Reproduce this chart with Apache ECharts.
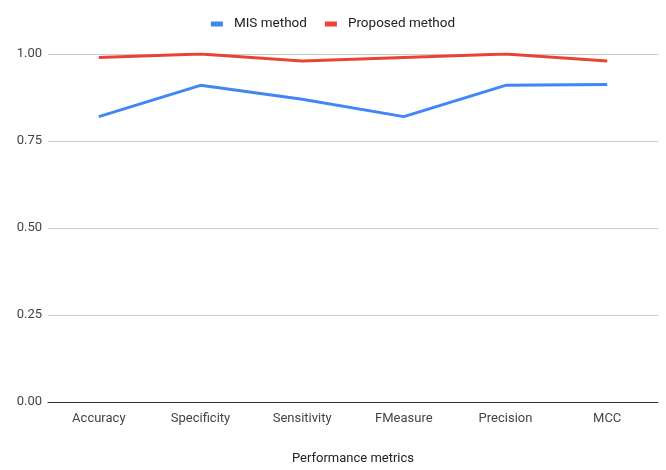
<!DOCTYPE html>
<html>
<head>
<meta charset="utf-8">
<script src="https://cdn.jsdelivr.net/npm/echarts@6/dist/echarts.min.js"></script>
<style>
  html, body { margin: 0; padding: 0; background: #fff; }
  #chart { width: 666px; height: 470px; }
</style>
</head>
<body>
<div id="chart"></div>
<script>
const categories = ['Accuracy', 'Specificity', 'Sensitivity', 'FMeasure', 'Precision', 'MCC'];
const misMethod = [0.82, 0.91, 0.87, 0.82, 0.91, 0.912];
const proposedMethod = [0.99, 1.0, 0.98, 0.99, 1.0, 0.98];
const yTicks = [0, 0.25, 0.5, 0.75, 1.0];

const font = 'Roboto, Arial, sans-serif';
const chart = echarts.init(document.getElementById('chart'));
chart.setOption({
  animation: false,
  textStyle: { fontFamily: font },
  legend: {
    top: 12,
    left: 'center',
    icon: 'rect',
    itemWidth: 12,
    itemHeight: 5,
    itemGap: 18,
    textStyle: { fontSize: 13.5, color: '#222', fontFamily: font, padding: [0, 0, 0, 6] },
    data: ['MIS method', 'Proposed method']
  },
  grid: { left: 48, right: 8, top: 54, bottom: 68, containLabel: false },
  xAxis: {
    type: 'category',
    data: categories,
    boundaryGap: true,
    name: 'Performance metrics',
    nameLocation: 'middle',
    nameGap: 50,
    nameTextStyle: { fontSize: 13, color: '#222', fontFamily: font },
    axisLine: { lineStyle: { color: '#333', width: 1 } },
    axisTick: { show: false },
    axisLabel: { fontSize: 13, color: '#444', margin: 10, fontFamily: font }
  },
  yAxis: {
    type: 'value',
    min: yTicks[0],
    max: yTicks[yTicks.length - 1],
    interval: 0.25,
    axisLine: { show: false },
    axisTick: { show: false },
    splitLine: { lineStyle: { color: '#cccccc', width: 1 } },
    axisLabel: {
      fontSize: 13, color: '#444', margin: 6, fontFamily: font,
      formatter: v => v.toFixed(2)
    }
  },
  series: [
    {
      name: 'MIS method', type: 'line', data: misMethod,
      symbol: 'none', itemStyle: { color: '#4285f4' },
      lineStyle: { color: '#4285f4', width: 3 }
    },
    {
      name: 'Proposed method', type: 'line', data: proposedMethod,
      symbol: 'none', itemStyle: { color: '#ea4335' },
      lineStyle: { color: '#ea4335', width: 3 }
    }
  ]
});
</script>
</body>
</html>
